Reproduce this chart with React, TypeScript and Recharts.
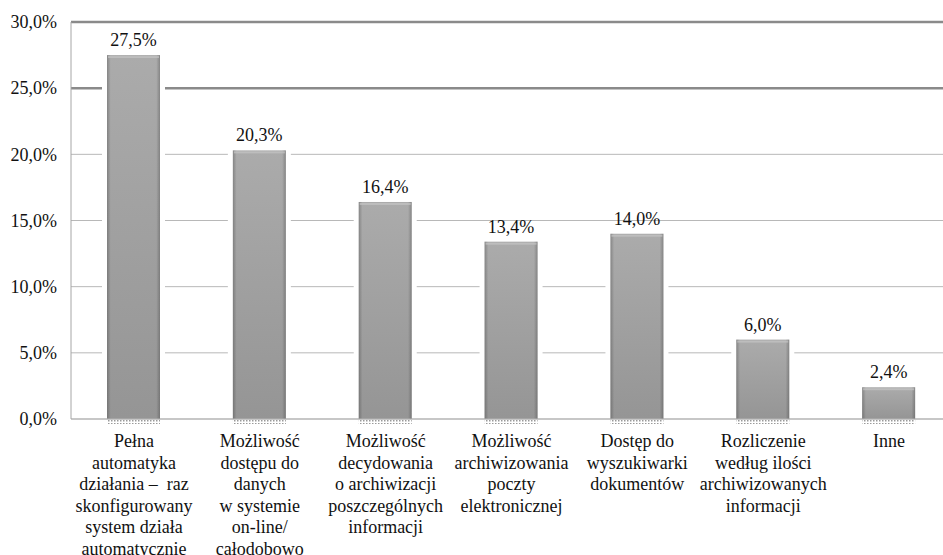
import React from 'react'
import { BarChart, Bar, XAxis, YAxis, CartesianGrid, LabelList } from 'recharts'

const categories = [
  'Pełna\nautomatyka\ndziałania –  raz\nskonfigurowany\nsystem działa\nautomatycznie',
  'Możliwość\ndostępu do\ndanych\nw systemie\non-line/\ncałodobowo',
  'Możliwość\ndecydowania\no archiwizacji\nposzczególnych\ninformacji',
  'Możliwość\narchiwizowania\npoczty\nelektronicznej',
  'Dostęp do\nwyszukiwarki\ndokumentów',
  'Rozliczenie\nwedług ilości\narchiwizowanych\ninformacji',
  'Inne',
]
const shares = [27.5, 20.3, 16.4, 13.4, 14.0, 6.0, 2.4]
const yTicks = [0, 5, 10, 15, 20, 25, 30]

const data = categories.map((name, i) => ({ name, value: shares[i] }))

const FONT = 'Liberation Serif'
const pct = (v: number) => `${v.toFixed(1).replace('.', ',')}%`

const XTick = (props: any) => {
  const { x, y, payload } = props
  const lines = String(payload.value).split('\n')
  return (
    <text x={x} y={y} textAnchor="middle" fill="#111" fontSize={18} fontFamily={FONT}>
      {lines.map((l, i) => (
        <tspan key={i} x={x} dy={i === 0 ? 20 : 21.5} style={{ whiteSpace: 'pre' }}>{l}</tspan>
      ))}
    </text>
  )
}

const YTick = (props: any) => {
  const { y, payload } = props
  return (
    <text x={57} y={y} dy="0.35em" textAnchor="end" fill="#111" fontSize={18} fontFamily={FONT}>
      {pct(payload.value)}
    </text>
  )
}

// grid: the two upper lines are drawn heavier
const GridLine = (props: any) => {
  const { x1, x2, y1, y2 } = props
  const heavy = y1 < 100
  return (
    <line
      x1={x1} x2={x2} y1={y1} y2={y2}
      stroke={heavy ? '#8a8a8a' : '#b8b8b8'}
      strokeWidth={heavy ? 2.5 : 1}
    />
  )
}

const BarShape = (props: any) => {
  const { x, y, width, height } = props
  if (!height || height <= 0) return null
  const base = y + height
  return (
    <g>
      <rect x={x - 5} y={y - 5} width={width + 10} height={height + 4} fill="#fff" />
      <rect x={x} y={base + 1} width={width} height={4} fill="url(#dots)" />
      <rect x={x} y={y} width={width} height={height} fill="url(#barFill)" />
      <rect x={x} y={y} width={width} height={height} fill="url(#barEdge)" />
      <rect x={x + 1} y={y + 1} width={width - 2} height={2} fill="#c4c4c4" opacity={0.7} />
    </g>
  )
}

const ValueLabel = (props: any) => {
  const { x, y, width, value } = props
  return (
    <text x={x + width / 2} y={y - 9} textAnchor="middle" fill="#111" fontSize={18} fontFamily={FONT}>
      {pct(Number(value))}
    </text>
  )
}

export default function App() {
  return (
    <div style={{ position: 'absolute', left: 0, top: 0, width: 943, height: 555, overflow: 'hidden', background: '#fff' }}>
      <BarChart width={952} height={555} data={data} margin={{ top: 22, right: 0, left: 0, bottom: 0 }}>
        <defs>
          <linearGradient id="barFill" x1="0" y1="0" x2="0" y2="1">
            <stop offset="0%" stopColor="#ababab" />
            <stop offset="100%" stopColor="#959595" />
          </linearGradient>
          <linearGradient id="barEdge" x1="0" y1="0" x2="1" y2="0">
            <stop offset="0%" stopColor="#000" stopOpacity={0.22} />
            <stop offset="7%" stopColor="#000" stopOpacity={0} />
            <stop offset="93%" stopColor="#000" stopOpacity={0} />
            <stop offset="100%" stopColor="#000" stopOpacity={0.22} />
          </linearGradient>
          <pattern id="dots" width="3" height="3" patternUnits="userSpaceOnUse">
            <rect width="3" height="3" fill="#fff" />
            <rect x="0" y="0" width="1.5" height="1.5" fill="#9a9a9a" />
          </pattern>
        </defs>
        <CartesianGrid vertical={false} horizontal={GridLine} />
        <XAxis
          dataKey="name"
          interval={0}
          height={136}
          tickLine={false}
          axisLine={{ stroke: '#b3b3b3' }}
          tick={XTick}
        />
        <YAxis
          width={71}
          domain={[0, 30]}
          ticks={yTicks}
          tickLine={false}
          axisLine={{ stroke: '#a6a6a6' }}
          tick={YTick}
        />
        <Bar dataKey="value" barSize={53} shape={BarShape} isAnimationActive={false}>
          <LabelList dataKey="value" content={ValueLabel} />
        </Bar>
      </BarChart>
    </div>
  )
}
